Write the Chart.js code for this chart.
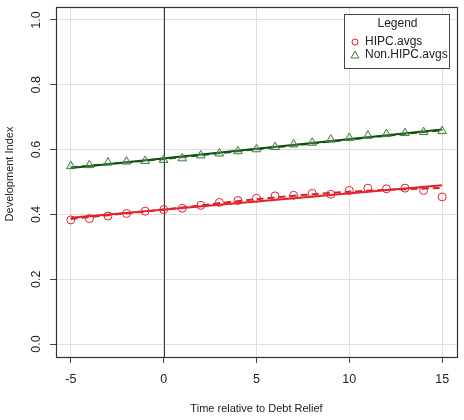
<!DOCTYPE html>
<html>
<head>
<meta charset="utf-8">
<script src="https://cdn.jsdelivr.net/npm/chart.js@4.4.0/dist/chart.umd.min.js"></script>
<style>
  html, body { margin: 0; padding: 0; background: #fff; }
  #wrap { width: 464px; height: 420px; }
</style>
</head>
<body>
<div id="wrap"><canvas id="myChart" width="464" height="420"></canvas></div>
<script>
// time relative to debt relief
var years = [-5,-4,-3,-2,-1,0,1,2,3,4,5,6,7,8,9,10,11,12,13,14,15];
var hipcAvgs = [0.383,0.387,0.395,0.403,0.410,0.415,0.419,0.428,0.437,0.443,0.450,
                0.457,0.459,0.465,0.462,0.474,0.481,0.479,0.481,0.474,0.454];
var nonHipcAvgs = [0.549,0.552,0.560,0.563,0.565,0.568,0.573,0.582,0.588,0.595,0.601,
                   0.608,0.616,0.621,0.631,0.636,0.643,0.648,0.651,0.654,0.657];

// fitted lines
var fitX = [-5, 15];
var hipcFit = [0.390, 0.490];
var nonHipcFit = [0.543, 0.662];
var smoothX = [-5, 0, 5, 10, 15];
var hipcSmooth = [0.386, 0.415, 0.447, 0.470, 0.482];
var nonHipcSmooth = [0.545, 0.571, 0.601, 0.631, 0.660];

var xTicks = [-5, 0, 5, 10, 15];
var yTicks = [0, 0.2, 0.4, 0.6, 0.8, 1.0];
var legendLabels = ['HIPC.avgs', 'Non.HIPC.avgs'];

var RED = '#e3232b';
var GREEN = '#3f7f3f';
var DKGREEN = '#144d14';
var FONT = '"Liberation Sans", Arial, sans-serif';

function pts(xs, ys) {
    return xs.map(function (x, i) { return {x: x, y: ys[i]}; });
}

const rStyle = {
    id: 'rStyle',
    beforeDatasetsDraw(chart) {
        const ctx = chart.ctx, a = chart.chartArea, xs = chart.scales.x;
        // vertical reference line at 0
        const px = Math.round(xs.getPixelForValue(0)) + 0.5;
        ctx.save();
        ctx.strokeStyle = '#333';
        ctx.lineWidth = 1;
        ctx.beginPath();
        ctx.moveTo(px, a.top);
        ctx.lineTo(px, a.bottom);
        ctx.stroke();
        ctx.restore();
    },
    afterDraw(chart) {
        const ctx = chart.ctx, a = chart.chartArea, ys = chart.scales.y;
        ctx.save();
        // frame
        ctx.strokeStyle = '#333';
        ctx.lineWidth = 1.2;
        ctx.strokeRect(a.left + 0.5, a.top + 0.5, a.right - a.left, a.bottom - a.top);

        // rotated y tick labels
        ctx.fillStyle = '#222';
        ctx.font = '12.5px ' + FONT;
        ctx.textAlign = 'center';
        ctx.textBaseline = 'middle';
        yTicks.forEach(function (v) {
            const py = ys.getPixelForValue(v);
            ctx.save();
            ctx.translate(37, py);
            ctx.rotate(-Math.PI / 2);
            ctx.fillText(v.toFixed(1), 0, 0);
            ctx.restore();
        });

        // y axis title
        ctx.save();
        ctx.font = '11px ' + FONT;
        ctx.translate(10, 174);
        ctx.rotate(-Math.PI / 2);
        ctx.fillText('Development Index', 0, 0);
        ctx.restore();

        // legend box
        const lx = 344, ly = 14, lw = 105, lh = 54;
        ctx.fillStyle = '#fff';
        ctx.fillRect(lx, ly, lw, lh);
        ctx.strokeStyle = '#444';
        ctx.lineWidth = 1;
        ctx.strokeRect(lx + 0.5, ly + 0.5, lw, lh);
        ctx.fillStyle = '#222';
        ctx.font = '12px ' + FONT;
        ctx.fillText('Legend', lx + lw / 2 + 1, 24);
        ctx.textAlign = 'left';
        ctx.fillText(legendLabels[0], 365, 42);
        ctx.fillText(legendLabels[1], 365, 55);
        // symbols
        ctx.strokeStyle = RED;
        ctx.beginPath();
        ctx.arc(355, 42, 3, 0, Math.PI * 2);
        ctx.stroke();
        ctx.strokeStyle = GREEN;
        ctx.beginPath();
        ctx.moveTo(355, 51);
        ctx.lineTo(359, 58);
        ctx.lineTo(351, 58);
        ctx.closePath();
        ctx.stroke();
        ctx.restore();
    }
};

const data = {
    datasets: [{
        label: 'HIPC.avgs',
        data: pts(years, hipcAvgs),
        showLine: false,
        pointStyle: 'circle',
        pointRadius: 4,
        pointBorderColor: RED,
        pointBackgroundColor: 'rgba(0,0,0,0)',
        pointBorderWidth: 1,
        order: 1,
    },{
        label: 'Non.HIPC.avgs',
        data: pts(years, nonHipcAvgs),
        showLine: false,
        pointStyle: 'triangle',
        pointRadius: 5,
        pointBorderColor: GREEN,
        pointBackgroundColor: 'rgba(150,200,150,0.25)',
        pointBorderWidth: 1,
        order: 1,
    },{
        label: 'hipc fit',
        data: pts(fitX, hipcFit),
        showLine: true,
        borderColor: RED,
        borderWidth: 2,
        pointRadius: 0,
        order: 2,
    },{
        label: 'hipc smooth',
        data: pts(smoothX, hipcSmooth),
        showLine: true,
        borderColor: '#d8202a',
        borderWidth: 2,
        borderDash: [7, 4],
        tension: 0.3,
        pointRadius: 0,
        order: 2,
    },{
        label: 'non fit',
        data: pts(fitX, nonHipcFit),
        showLine: true,
        borderColor: DKGREEN,
        borderWidth: 2,
        pointRadius: 0,
        order: 2,
    },{
        label: 'non smooth',
        data: pts(smoothX, nonHipcSmooth),
        showLine: true,
        borderColor: '#1f5f1f',
        borderWidth: 2,
        borderDash: [7, 4],
        tension: 0.3,
        pointRadius: 0,
        order: 2,
    }],
};

const config = {
    type: 'scatter',
    data: data,
    options: {
        responsive: false,
        animation: false,
        layout: { padding: { top: 7, right: 7, left: 0, bottom: 0 } },
        plugins: {
            legend: { display: false },
            tooltip: { enabled: false },
        },
        scales: {
            x: {
                type: 'linear',
                min: -5.8,
                max: 15.8,
                afterBuildTicks: function (s) { s.ticks = xTicks.map(function (v) { return {value: v}; }); },
                afterFit: function (s) { s.height = 63; },
                border: { display: false },
                grid: { color: '#dedede', tickColor: '#444', tickLength: 6, lineWidth: 1 },
                ticks: { color: '#222', font: { family: FONT, size: 12.5 }, padding: 9, maxRotation: 0 },
                title: {
                    display: true,
                    text: 'Time relative to Debt Relief',
                    color: '#222',
                    font: { family: FONT, size: 11 },
                    padding: { top: 9 },
                },
            },
            y: {
                type: 'linear',
                min: -0.04,
                max: 1.04,
                afterBuildTicks: function (s) { s.ticks = yTicks.map(function (v) { return {value: v}; }); },
                afterFit: function (s) { s.width = 56; },
                border: { display: false },
                grid: { color: '#dedede', tickColor: '#444', tickLength: 6, lineWidth: 1 },
                ticks: { display: false },
            },
        },
    },
    plugins: [rStyle],
};

const myChart = new Chart(document.getElementById('myChart'), config);
</script>
</body>
</html>
